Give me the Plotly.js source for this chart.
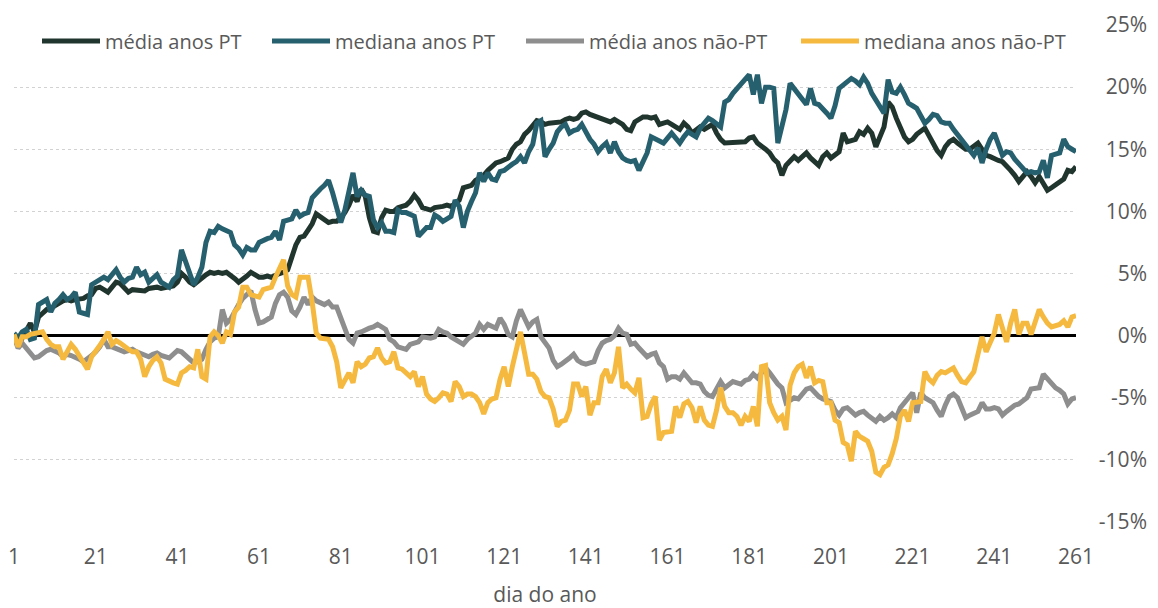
<!DOCTYPE html>
<html>
<head>
<meta charset="utf-8">
<script src="https://cdn.plot.ly/plotly-3.0.1.min.js"></script>
<style>html,body{margin:0;padding:0;background:#fff;}#chart{width:1158px;height:608px;}</style>
</head>
<body>
<div id="chart"></div>
<script>
// Dia do ano (1..261)
const dias = Array.from({length: 261}, (_, i) => i + 1);
const xTickVals = [1, 21, 41, 61, 81, 101, 121, 141, 161, 181, 201, 221, 241, 261];
const yTickVals = [-15, -10, -5, 0, 5, 10, 15, 20, 25];
const yTickText = ["-15%", "-10%", "-5%", "0%", "5%", "10%", "15%", "20%", "25%"];

const nomes = ["média anos PT", "mediana anos PT", "média anos não-PT", "mediana anos não-PT"];
const cores = ["#21352f", "#26606f", "#8e8e8e", "#f5b93f"];

// média anos PT (%)
const mediaPT = [
0.0,-0.8,-0.2,0.5,1.0,0.3,1.5,1.8,2.1,2.2,
2.4,2.7,2.8,2.9,2.8,2.9,2.9,3.0,3.2,3.3,
3.8,3.9,3.7,3.5,3.9,4.3,4.2,3.9,3.5,3.7,
3.7,3.7,3.6,3.8,3.9,3.9,3.8,3.9,3.9,4.0,
4.3,5.0,4.7,4.3,4.1,4.4,4.7,4.9,5.1,5.0,
5.1,5.0,5.1,4.9,4.6,4.3,4.5,4.8,5.1,4.9,
4.7,4.7,4.8,4.7,4.9,5.0,5.1,5.3,6.3,7.3,
7.9,8.0,8.5,9.0,9.8,9.6,9.3,9.1,9.2,9.2,
9.5,9.9,10.5,11.3,10.8,11.8,11.2,9.5,8.4,8.3,
9.5,10.1,10.0,10.0,10.3,10.4,10.5,10.8,11.3,10.9,
10.3,10.2,10.1,10.3,10.3,10.4,10.5,10.4,10.6,10.9,
11.9,12.0,12.1,12.5,12.7,12.9,13.3,13.6,13.9,14.0,
14.1,14.3,15.0,15.4,15.6,16.2,16.5,16.9,17.3,17.2,
17.0,17.1,17.1,17.2,17.2,17.4,17.5,17.4,17.5,17.9,
18.0,17.8,17.7,17.5,17.4,17.4,17.2,17.4,17.2,17.0,
16.6,16.5,17.2,17.4,17.6,17.6,17.5,17.6,17.0,17.1,
17.2,17.0,16.8,16.6,17.1,16.8,16.3,16.6,16.8,16.6,
16.8,17.0,16.3,15.8,15.5,15.5,15.5,15.5,15.6,15.6,
15.9,16.0,15.5,15.3,15.0,14.7,14.2,13.9,12.9,13.7,
14.1,14.4,14.1,14.4,14.7,14.3,14.0,13.7,14.4,14.7,
14.3,14.6,14.8,16.3,15.6,15.7,15.8,16.4,16.2,16.7,
16.3,15.2,15.9,16.8,18.8,18.4,17.5,16.8,16.0,15.6,
15.8,16.2,16.5,16.7,16.1,15.4,14.9,14.5,15.2,15.6,
15.8,15.5,15.2,15.0,15.0,15.2,15.5,15.0,14.5,14.4,
14.2,14.1,14.0,13.7,13.3,12.9,12.4,12.8,13.2,12.8,
12.3,12.8,12.3,11.7,11.9,12.1,12.4,12.6,13.3,13.2,
13.6];

// mediana anos PT (%)
const medianaPT = [
0.2,-0.2,0.3,0.5,-0.3,-0.2,2.5,2.7,2.9,1.9,
2.6,2.9,3.3,2.9,3.1,3.5,1.9,1.8,1.7,4.1,
4.3,4.5,4.7,4.5,4.9,5.3,4.7,4.3,4.6,4.7,
5.5,4.9,5.1,4.3,4.6,4.9,4.3,4.1,3.9,4.5,
4.8,6.9,6.0,5.0,4.1,4.7,5.5,7.5,8.4,8.3,
8.8,8.6,8.4,8.3,7.3,7.0,6.5,7.1,6.9,6.9,
7.5,7.7,7.8,7.9,8.4,7.7,9.2,9.3,9.4,10.1,
9.6,9.8,9.9,11.1,11.5,11.8,12.1,12.5,11.5,10.3,
9.1,10.1,11.5,13.1,11.2,11.7,11.3,11.2,9.3,8.7,
9.1,8.4,8.4,8.3,10.1,9.9,9.9,9.7,9.6,8.0,
8.4,8.7,8.7,9.7,9.5,9.2,9.4,9.6,10.9,10.4,
8.7,10.0,10.8,11.5,13.1,12.4,13.1,12.6,12.5,13.2,
13.3,13.6,13.8,14.0,14.4,13.9,14.8,15.4,17.1,17.3,
14.4,15.0,15.5,16.4,16.8,17.0,16.3,16.5,16.6,17.0,
16.3,15.8,15.4,14.8,15.2,15.5,14.7,15.6,14.8,14.3,
14.1,14.0,14.1,13.3,14.0,14.7,16.0,15.8,15.6,15.5,
15.9,16.3,15.9,15.5,16.0,16.4,16.2,16.0,16.7,17.1,
17.5,17.3,17.0,16.8,18.8,19.0,19.5,19.9,20.3,20.6,
21.0,19.4,21.0,18.7,20.0,20.0,19.9,15.5,17.0,18.2,
20.3,19.9,19.5,19.1,18.6,19.9,18.7,18.6,18.3,17.9,
17.5,18.5,19.9,20.2,20.5,20.7,20.5,20.2,20.8,20.3,
19.5,18.9,18.4,17.9,20.6,19.6,19.5,20.0,19.4,18.7,
18.5,18.3,17.7,17.1,17.4,17.8,17.7,17.2,17.1,17.1,
16.6,16.2,15.8,15.3,14.9,14.5,15.1,13.9,15.0,15.8,
16.3,15.5,14.5,14.8,14.7,14.2,13.8,13.4,13.1,13.2,
13.1,13.2,14.1,12.7,14.5,14.6,14.7,15.8,15.2,15.0,
14.8];

// média anos não-PT (%)
const mediaNaoPT = [
-0.1,-1.0,-0.6,-1.0,-1.5,-1.8,-1.7,-1.4,-1.2,-1.1,
-1.2,-1.4,-1.7,-1.5,-1.6,-1.7,-1.9,-2.1,-1.9,-1.6,
-1.3,-0.9,-0.3,-0.9,-0.9,-1.0,-1.2,-1.3,-1.2,-1.1,
-1.3,-1.4,-1.6,-1.7,-1.5,-1.4,-1.6,-1.7,-1.8,-1.5,
-1.2,-1.3,-1.6,-2.0,-2.2,-2.1,-1.9,-1.1,-0.5,-0.2,
-0.1,2.1,1.0,1.3,2.0,2.5,3.0,3.3,3.6,2.1,
1.0,1.1,1.3,1.5,2.6,3.3,3.5,3.1,2.0,1.7,
2.3,3.1,2.5,3.1,2.8,2.6,2.5,2.7,2.3,2.3,
1.5,0.5,-0.3,-0.6,0.2,0.3,0.5,0.6,0.7,0.9,
0.7,0.5,-0.3,-0.5,-0.9,-1.0,-1.1,-0.7,-0.6,-0.5,
-0.1,-0.2,-0.2,-0.1,0.5,0.3,0.2,-0.1,-0.3,-0.5,
-0.7,-0.3,-0.1,0.2,0.9,0.5,0.9,0.7,0.6,1.4,
0.9,0.1,-0.1,1.2,2.1,1.4,0.7,1.1,1.3,-0.1,
-0.6,-1.0,-2.0,-2.5,-2.3,-2.1,-1.8,-1.5,-2.0,-2.2,
-2.3,-2.2,-2.1,-1.2,-0.6,-0.4,-0.3,0.0,0.6,0.2,
0.1,-0.7,-0.6,-1.0,-1.3,-1.7,-1.5,-1.4,-2.2,-2.5,
-3.5,-3.3,-3.3,-3.5,-3.0,-3.4,-3.8,-3.8,-3.9,-4.5,
-4.8,-4.9,-4.3,-3.7,-4.2,-4.0,-3.7,-3.8,-3.9,-3.6,
-3.5,-3.1,-3.4,-3.0,-2.6,-3.0,-3.5,-3.9,-4.2,-5.4,
-5.2,-5.0,-5.1,-4.7,-4.3,-4.2,-4.6,-4.9,-5.1,-5.2,
-5.3,-6.0,-6.4,-5.9,-5.8,-6.1,-6.4,-6.2,-6.1,-6.4,
-6.6,-6.9,-6.5,-6.8,-6.6,-6.3,-6.6,-5.8,-5.4,-5.0,
-4.6,-6.2,-4.6,-5.0,-5.2,-5.4,-6.0,-6.5,-5.6,-4.9,
-4.7,-5.0,-5.8,-6.6,-6.4,-6.2,-6.1,-5.4,-5.9,-5.9,
-5.8,-5.9,-6.4,-6.1,-5.8,-5.6,-5.5,-5.3,-5.0,-4.3,
-4.3,-4.2,-3.1,-3.5,-3.9,-4.2,-4.4,-4.7,-5.5,-5.1,
-5.0];

// mediana anos não-PT (%)
const medianaNaoPT = [
0.1,-0.9,-0.1,-0.1,0.1,0.2,0.3,0.3,-0.3,-0.7,
-0.9,-0.9,-1.9,-1.3,-0.7,-1.1,-1.7,-2.1,-2.7,-1.7,
-1.3,-0.8,-0.3,0.3,-0.7,-0.4,-0.6,-0.9,-1.1,-1.3,
-1.3,-1.9,-3.3,-2.5,-2.0,-1.7,-2.2,-3.5,-3.7,-3.8,
-3.9,-3.0,-2.8,-2.5,-2.6,-1.1,-3.3,-3.5,-0.1,0.3,
0.0,-0.6,0.3,0.1,1.9,2.3,3.9,3.9,3.3,3.2,
3.1,3.7,3.8,3.9,4.7,5.5,6.1,4.0,3.3,3.1,
4.7,4.7,4.7,2.7,0.2,-0.2,-0.3,-0.3,-0.9,-2.1,
-4.2,-3.6,-3.0,-3.8,-2.1,-2.5,-2.3,-1.8,-1.7,-1.0,
-1.8,-2.2,-2.1,-1.3,-2.6,-2.7,-3.0,-3.3,-2.9,-4.1,
-3.3,-4.7,-5.1,-5.3,-5.0,-4.6,-4.7,-5.3,-3.7,-4.1,
-4.9,-4.7,-4.7,-4.9,-5.4,-6.3,-5.4,-5.1,-5.0,-3.5,
-2.5,-4.1,-2.5,-1.0,0.3,-1.4,-3.1,-3.1,-3.5,-4.5,
-4.9,-5.0,-5.9,-7.3,-6.9,-6.8,-6.0,-3.9,-3.9,-4.9,
-4.1,-6.4,-5.4,-5.4,-3.3,-2.7,-3.8,-3.0,-0.9,-4.2,
-3.9,-4.3,-4.6,-3.4,-6.6,-6.5,-5.5,-4.9,-8.4,-7.8,
-7.7,-7.7,-5.7,-6.6,-5.5,-5.3,-5.8,-7.0,-5.7,-6.8,
-7.2,-7.3,-6.0,-4.2,-5.7,-6.2,-6.2,-6.5,-7.2,-6.5,
-6.9,-5.7,-7.3,-2.5,-2.4,-5.4,-6.2,-6.8,-6.5,-7.6,
-4.0,-3.0,-2.5,-2.3,-3.4,-2.5,-3.8,-3.6,-3.7,-5.4,
-5.4,-6.8,-7.0,-8.6,-8.8,-10.1,-7.7,-8.1,-8.3,-8.5,
-9.3,-11.0,-11.2,-10.6,-10.4,-9.5,-8.3,-6.5,-6.0,-6.9,
-5.4,-5.3,-5.3,-2.9,-3.5,-3.8,-3.2,-2.9,-3.0,-2.8,
-2.6,-3.2,-3.7,-3.8,-3.3,-2.9,-1.5,-0.1,-1.3,-0.5,
0.2,1.7,0.5,-0.5,1.0,2.1,0.1,1.0,1.0,0.1,
1.1,2.1,1.5,1.0,0.7,0.8,0.9,1.2,0.7,1.5,
1.6];

const series = [mediaPT, medianaPT, mediaNaoPT, medianaNaoPT];
const legendIds = ["legend", "legend2", "legend3", "legend4"];
const legendX = [37, 267, 521, 796];

const traces = series.map((vals, i) => ({
  type: "scatter",
  mode: "lines",
  x: dias,
  y: vals,
  name: nomes[i],
  legend: legendIds[i],
  line: {color: cores[i], width: 5, shape: "linear"},
  hoverinfo: "skip"
}));

const W = 1158, H = 608;
const fontFam = "'Open Sans', 'Noto Sans', sans-serif";
const legendBase = {
  orientation: "h", yanchor: "middle", xanchor: "left",
  yref: "container", y: 1 - 41 / H,
  font: {family: fontFam, size: 20, color: "#595959"},
  bgcolor: "rgba(0,0,0,0)", itemwidth: 58, borderwidth: 0,
  itemclick: false, itemdoubleclick: false
};
const layout = {
  width: W, height: H,
  margin: {l: 0, r: 0, t: 25, b: 86, autoexpand: false},
  paper_bgcolor: "#ffffff", plot_bgcolor: "#ffffff",
  font: {family: fontFam, color: "#595959"},
  showlegend: true,
  xaxis: {
    domain: [14 / W, 1076 / W],
    range: [1, 261],
    tickmode: "array", tickvals: xTickVals,
    ticktext: xTickVals.map(String),
    showgrid: false, zeroline: false, showline: false, ticks: "",
    ticklabelstandoff: 20,
    tickfont: {family: fontFam, size: 21, color: "#595959"},
    title: {text: "dia do ano", font: {family: fontFam, size: 21, color: "#595959"}, standoff: 26}
  },
  yaxis: {
    range: [-15, 25],
    anchor: "free", position: 1147 / W, side: "left",
    tickmode: "array", tickvals: yTickVals, ticktext: yTickText,
    showgrid: true, gridcolor: "#d2d2d2", griddash: "dot", gridwidth: 1,
    zeroline: true, zerolinecolor: "#000000", zerolinewidth: 3.5,
    showline: false, ticks: "",
    tickfont: {family: fontFam, size: 21, color: "#595959"}
  },
  legend: Object.assign({}, legendBase, {x: legendX[0] / W}),
  legend2: Object.assign({}, legendBase, {x: legendX[1] / W}),
  legend3: Object.assign({}, legendBase, {x: legendX[2] / W}),
  legend4: Object.assign({}, legendBase, {x: legendX[3] / W})
};

Plotly.newPlot("chart", traces, layout, {staticPlot: true, displayModeBar: false});
</script>
</body>
</html>
